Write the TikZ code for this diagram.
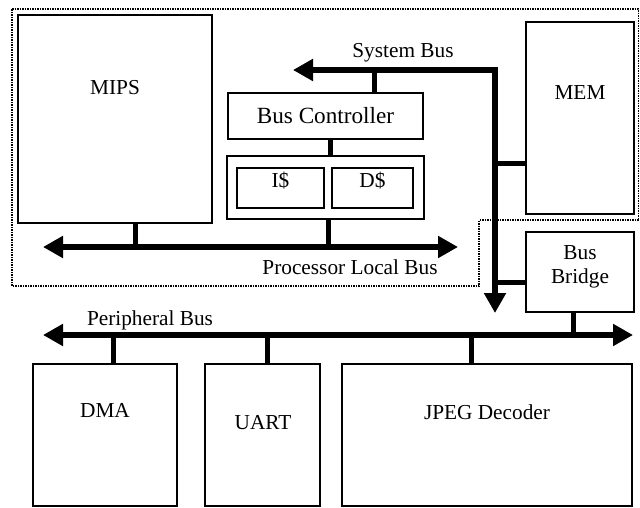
\documentclass[tikz,border=0pt]{standalone}
\usepackage{fontspec}
\setmainfont{Liberation Serif}
\usetikzlibrary{arrows.meta}
\begin{document}
\begin{tikzpicture}[x=1pt,y=-1pt,
  box/.style={draw, line width=2pt, inner sep=0pt, outer sep=0pt},
  lbl/.style={font=\fontsize{21.3}{24}\selectfont, inner sep=0pt},
  bus/.style={line width=6pt, {Triangle[length=20pt,width=21pt]}-{Triangle[length=20pt,width=21pt]}},
  conn/.style={line width=5pt},
  region/.style={densely dotted, line width=1.5pt}]
\useasboundingbox (0,0) rectangle (640,508);
% dotted region
\draw[region] (12,9) -- (638.5,9) -- (638.5,220) -- (479,220) -- (479,286) -- (12,286) -- cycle;
% boxes
\node[box, minimum width=194pt, minimum height=208pt] (mips) at (115,119) {};
\node[lbl] (mipsT) at (115,88) {MIPS};
\node[box, minimum width=108pt, minimum height=192pt] (mem) at (580,118) {};
\node[lbl] (memT) at (580,93) {MEM};
\node[box, minimum width=108pt, minimum height=80pt] (bridge) at (580,272) {};
\node[lbl, align=center] (bridgeT) at (580,267) {Bus\\[0pt]Bridge};
\node[box, lbl, font=\fontsize{23.2}{26}\selectfont, minimum width=195pt, minimum height=46pt] (bc) at (325.5,116) {Bus Controller};
\node[box, minimum width=197pt, minimum height=63pt] (cache) at (325.5,187.5) {};
\node[box, minimum width=87pt, minimum height=40pt] (ic) at (280.5,188) {};
\node[lbl] (icT) at (280.5,181) {I\$};
\node[box, minimum width=81pt, minimum height=40pt] (dc) at (372.5,188) {};
\node[lbl] (dcT) at (372.5,181) {D\$};
\node[box, minimum width=144pt, minimum height=142pt] (dma) at (105,435) {};
\node[lbl] (dmaT) at (105,410) {DMA};
\node[box, minimum width=115pt, minimum height=142pt] (uart) at (262.5,435) {};
\node[lbl] (uartT) at (263,423) {UART};
\node[box, minimum width=290pt, minimum height=142pt] (jpeg) at (487,435) {};
\node[lbl] (jpegT) at (487,412) {JPEG Decoder};
% bus labels
\node[lbl] (sysT) at (403,53) {System Bus};
\node[lbl] (plbT) at (350,267) {Processor Local Bus};
\node[lbl] (perT) at (150,320) {Peripheral Bus};
% system bus
\coordinate (sbL) at (293,70);
\coordinate (sbC) at (495,70);
\coordinate (sbB) at (495,313);
\draw[bus] (sbL) -- (sbC) -- (sbB);
\coordinate (sbBC) at (374,70);
\draw[conn] (sbBC) -- (sbBC |- bc.north);
\coordinate (sbMem) at (495,164);
\draw[conn] (sbMem) -- (sbMem -| mem.west);
\coordinate (sbBr) at (495,282);
\draw[conn] (sbBr) -- (sbBr -| bridge.west);
% bus controller to cache
\coordinate (bcC) at (330,139);
\draw[conn] (bcC |- bc.south) -- (bcC |- cache.north);
% processor local bus
\coordinate (lbL) at (43,247);
\coordinate (lbR) at (458,247);
\draw[bus] (lbL) -- (lbR);
\coordinate (lbM) at (135,247);
\draw[conn] (lbM) -- (lbM |- mips.south);
\coordinate (lbC) at (328,247);
\draw[conn] (lbC) -- (lbC |- cache.south);
% peripheral bus
\coordinate (pbL) at (43,335);
\coordinate (pbR) at (633,335);
\draw[bus] (pbL) -- (pbR);
\coordinate (pbBr) at (573,335);
\draw[conn] (pbBr) -- (pbBr |- bridge.south);
\coordinate (pbD) at (113,335);
\draw[conn] (pbD) -- (pbD |- dma.north);
\coordinate (pbU) at (267,335);
\draw[conn] (pbU) -- (pbU |- uart.north);
\coordinate (pbJ) at (471,335);
\draw[conn] (pbJ) -- (pbJ |- jpeg.north);
\end{tikzpicture}
\end{document}
